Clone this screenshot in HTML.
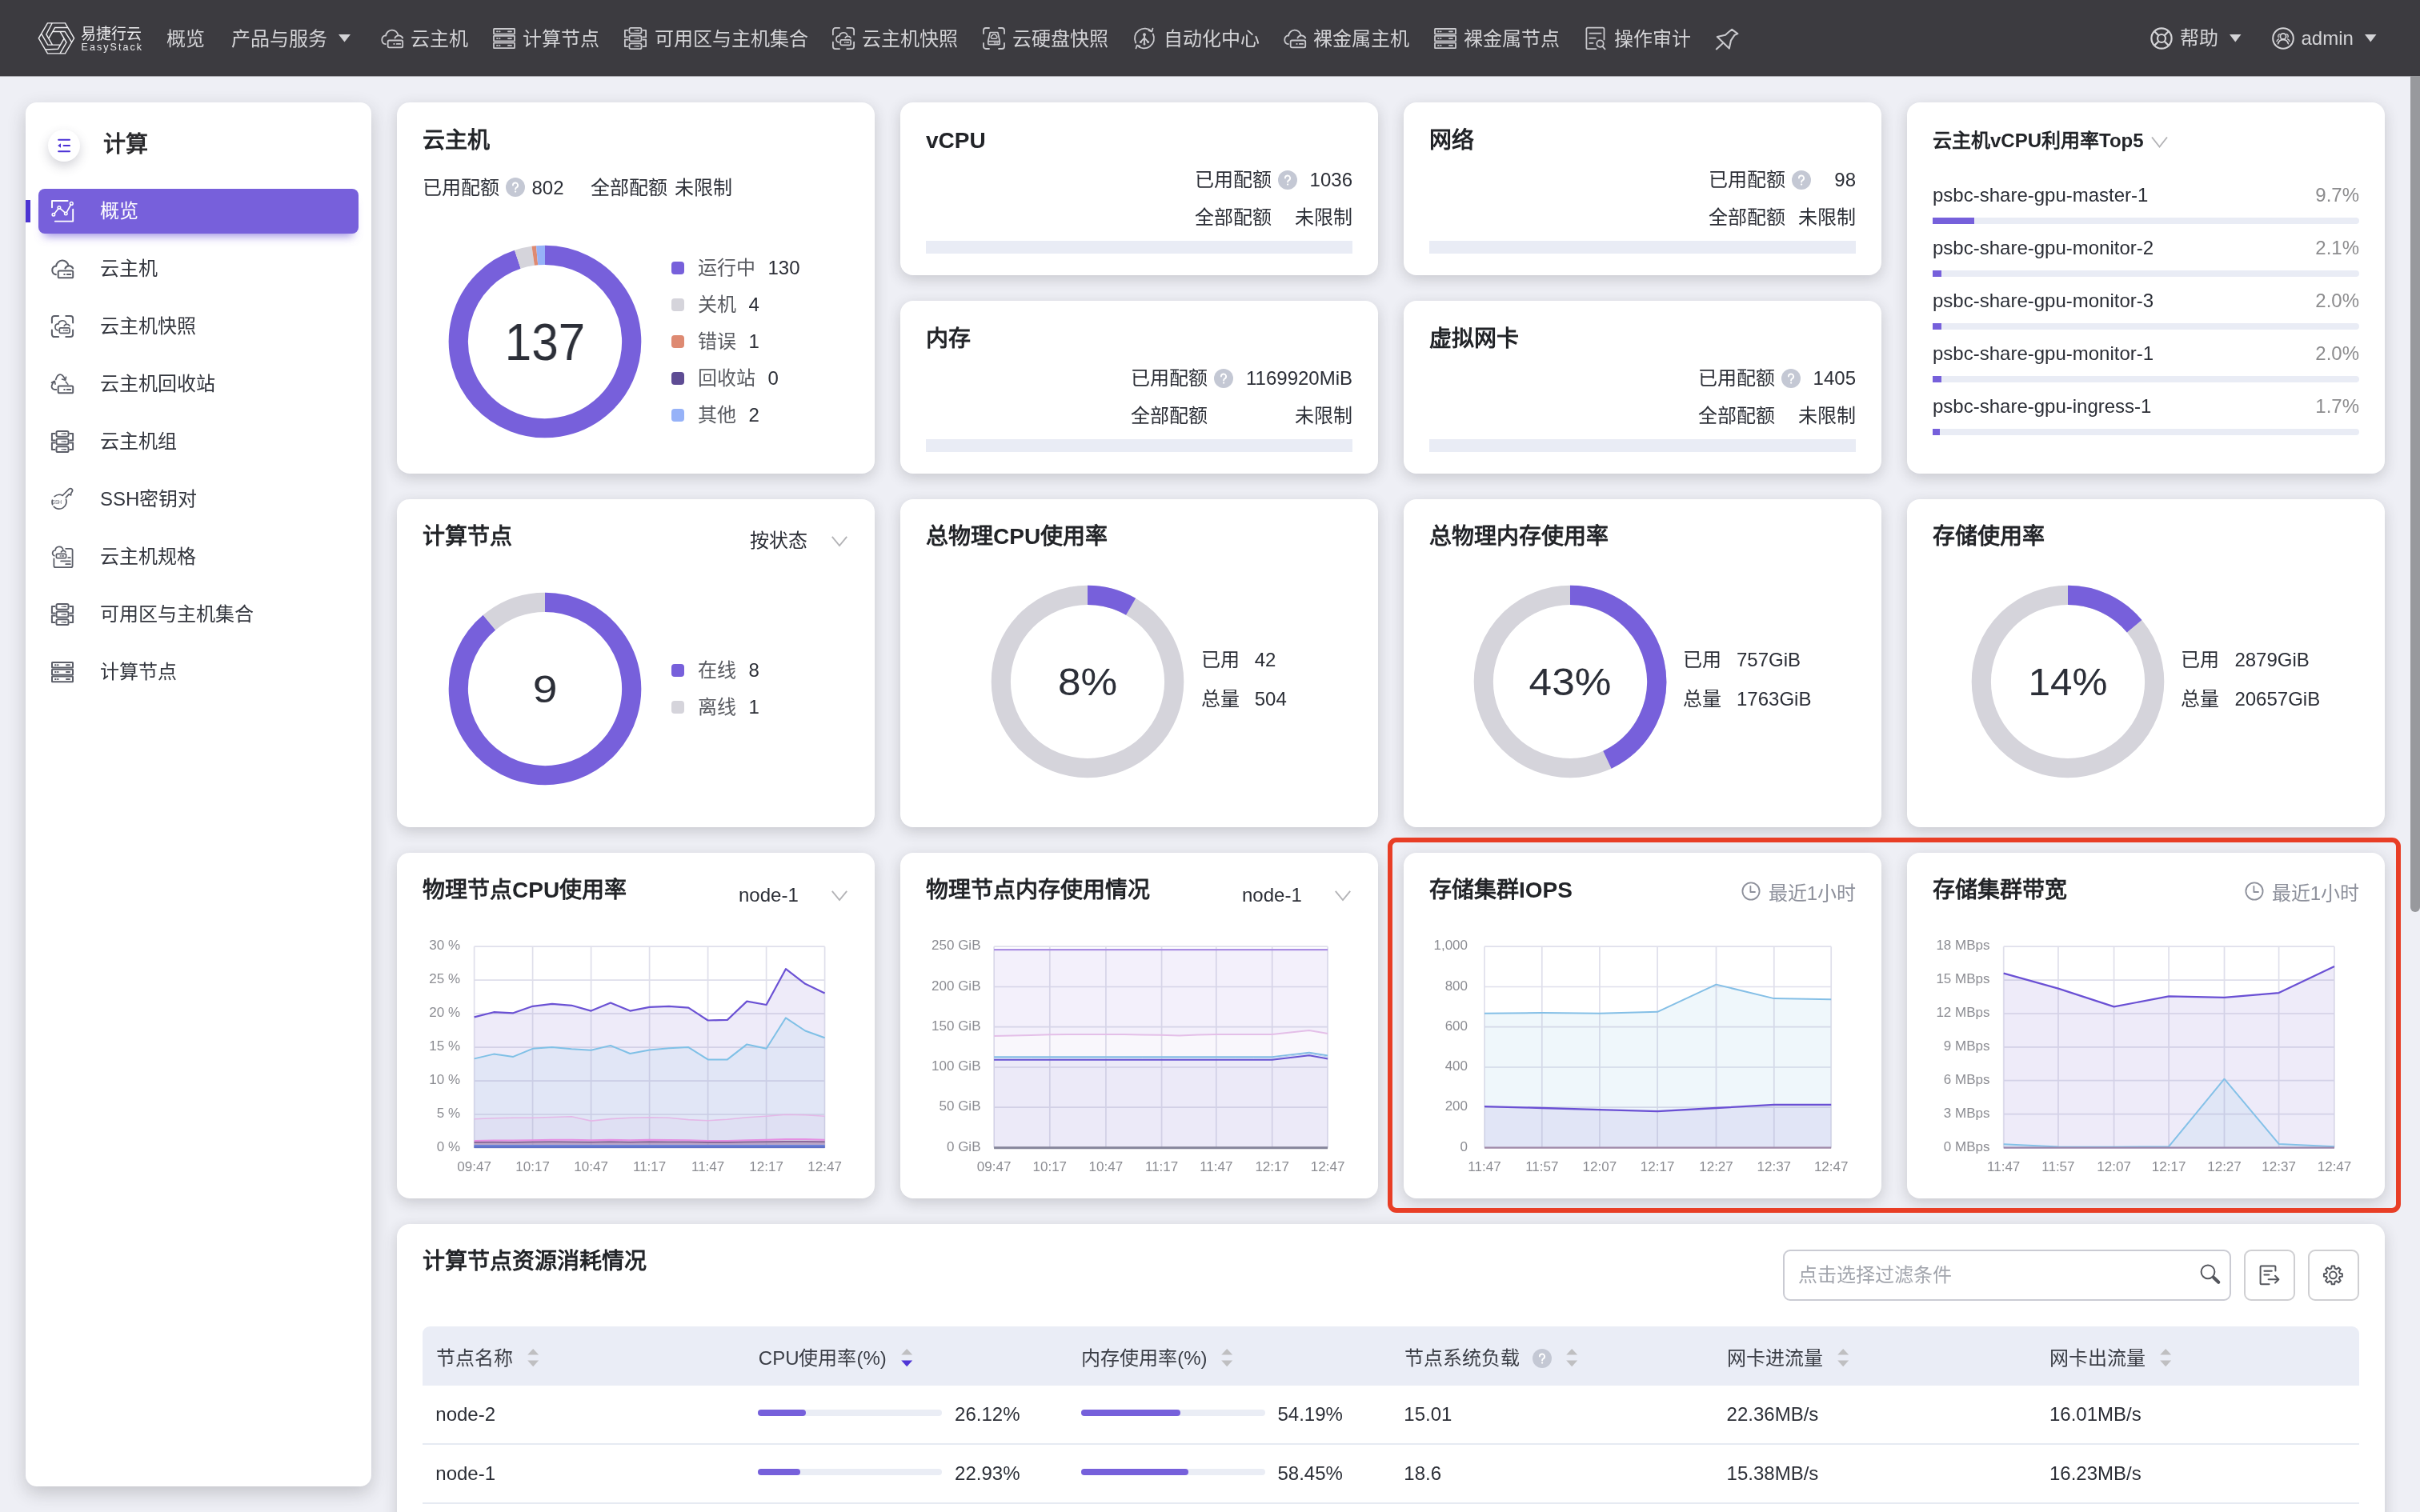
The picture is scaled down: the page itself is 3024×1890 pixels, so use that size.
<!DOCTYPE html><html lang="zh-CN"><head><meta charset="utf-8"><title>EasyStack</title><style>
*{box-sizing:border-box;margin:0;padding:0}
html,body{width:3024px;height:1890px;overflow:hidden}
body{position:relative;background:#eeeff5;font-family:"Liberation Sans",sans-serif;color:#2b2e36;font-size:24px;-webkit-font-smoothing:antialiased}
.abs{position:absolute}
.t{position:absolute;white-space:nowrap;line-height:1}
.nav{position:absolute;left:0;top:0;width:3024px;height:95px;background:#3c3b40}
.nav .t{color:#d6d6d8;font-size:24px}
.card{position:absolute;background:#fff;border-radius:16px;box-shadow:0 5px 18px rgba(44,44,50,.2)}
.ttl{position:absolute;white-space:nowrap;font-weight:bold;font-size:28px;line-height:1;color:#222428}
.q{position:absolute;width:24px;height:24px;border-radius:50%;background:#c3c7d3;color:#fff;font-size:17px;line-height:24px;text-align:center;font-weight:bold}
.bar{position:absolute;background:#e9ecf5}
.pf{position:absolute;background:#7660db}
svg{position:absolute;overflow:visible}
</style></head><body><div id="w" style="position:absolute;left:0;top:0;width:3024px;height:1890px;overflow:hidden;will-change:transform">
<div class="nav"></div><div class="abs" style="left:0;top:95px;width:3024px;height:1px;background:#a9a9ae"></div>
<svg style="left:0;top:0" width="120" height="95" viewBox="0 0 120 95" fill="none" stroke="#ededef" stroke-width="1.45" stroke-linejoin="miter" stroke-linecap="butt"><path d="M59.44 28.89L81.48 28.89L92.59 47.87L81.48 66.85L59.44 66.85L48.33 47.87ZM60.78 48.19L68.70 34.44L84.67 34.44M65.81 39.44L81.11 39.44L89.63 52.96M75.03 39.33L82.97 53.06L74.99 66.88M80.08 48.06L72.44 61.30L56.47 61.92M75.58 56.10L59.72 56.11L51.73 42.28M65.49 56.11L57.84 42.86L65.29 28.73"/></svg>
<div class="t" style="top:32.6px;font-size:19px;left:101.0px;color:#ececee;letter-spacing:0px">易捷行云</div>
<div class="t" style="top:52.8px;font-size:12.5px;left:101.5px;color:#ececee;letter-spacing:2.05px">EasyStack</div>
<div class="t" style="top:36.5px;font-size:24px;left:208.0px;color:#d3d3d6;">概览</div>
<div class="t" style="top:36.5px;font-size:24px;left:289.0px;color:#d3d3d6;">产品与服务</div>
<svg style="left:422.5px;top:43px" width="15" height="9.5" viewBox="0 0 15 9.5"><path d="M0 0H15L7.5 9.5Z" fill="#d3d3d6"/></svg>
<svg style="left:476px;top:34px" width="28" height="28" viewBox="0 0 28 28" fill="none" stroke="#c9c9cd" stroke-width="1.8" stroke-linecap="round" stroke-linejoin="round"><path d="M5.9 21.2A5.5 5.5 0 0 1 5.6 10.4M6.2 10.7A7.7 7.7 0 0 1 21.5 10.2M17.4 13.5A5.4 5.4 0 0 1 27.2 13.5"/><rect x="8.7" y="16.5" width="18.5" height="8.8" rx="1.6"/><path d="M16.2 20.9h.6M19.8 20.9h4.4"/></svg>
<div class="t" style="top:36.5px;font-size:24px;left:513.0px;color:#d3d3d6;">云主机</div>
<svg style="left:616px;top:34px" width="28" height="28" viewBox="0 0 28 28" fill="none" stroke="#c9c9cd" stroke-width="1.8" stroke-linecap="round" stroke-linejoin="round"><rect x="1" y="2" width="26" height="6.6" rx=".5"/><rect x="1" y="10.8" width="26" height="6.6" rx=".5"/><rect x="1" y="19.6" width="26" height="6.6" rx=".5"/><path d="M5 5.3h.6M8 5.3h.6M19 5.3h4M5 14.1h.6M8 14.1h.6M19 14.1h4M5 22.9h.6M8 22.9h.6M19 22.9h4"/></svg>
<div class="t" style="top:36.5px;font-size:24px;left:653.0px;color:#d3d3d6;">计算节点</div>
<svg style="left:780px;top:34px" width="28" height="28" viewBox="0 0 28 28" fill="none" stroke="#c9c9cd" stroke-width="1.8" stroke-linecap="round" stroke-linejoin="round"><rect x="6.5" y=".9" width="15" height="6.8" rx="1.7"/><rect x="6.5" y="10.6" width="15" height="6.8" rx="1.7"/><rect x="6.5" y="20.3" width="15" height="6.8" rx="1.7"/><path d="M13.4 4.3h.5M15.6 4.3h2.8M13.4 14h.5M15.6 14h2.8M13.4 23.7h.5M15.6 23.7h2.8" stroke-width="1.6"/><path d="M4.6 3.9H.9V12.4H4.6M4.6 15.6H.9V24.1H4.6M23.4 3.9H27.1V12.4H23.4M23.4 15.6H27.1V24.1H23.4"/></svg>
<div class="t" style="top:36.5px;font-size:24px;left:818.0px;color:#d3d3d6;">可用区与主机集合</div>
<svg style="left:1040px;top:34px" width="28" height="28" viewBox="0 0 28 28" fill="none" stroke="#c9c9cd" stroke-width="1.8" stroke-linecap="round" stroke-linejoin="round"><path d="M.9 9.4V4A3.1 3.1 0 0 1 4 .9H9.1M18.3 .9H24A3.1 3.1 0 0 1 27.1 4V9.4M27.1 18.6V24A3.1 3.1 0 0 1 24 27.1H18.3M9.1 27.1H4A3.1 3.1 0 0 1 .9 24V18.6"/><path d="M8.4 18.9A4.05 4.05 0 0 1 8.3 10.9M9 11A5 5 0 0 1 18.8 10.6M16.2 13.3A3.9 3.9 0 0 1 22.9 13.3" stroke-width="1.7"/><rect x="10.3" y="15.9" width="12.8" height="6.4" rx="1.3" stroke-width="1.7"/><path d="M15.6 19.1h.5M17.8 19.1h2.8" stroke-width="1.5"/></svg>
<div class="t" style="top:36.5px;font-size:24px;left:1077.0px;color:#d3d3d6;">云主机快照</div>
<svg style="left:1228px;top:34px" width="28" height="28" viewBox="0 0 28 28" fill="none" stroke="#c9c9cd" stroke-width="1.8" stroke-linecap="round" stroke-linejoin="round"><path d="M1 8V4a3 3 0 0 1 3-3h4M20 1h4a3 3 0 0 1 3 3v4M27 20v4a3 3 0 0 1-3 3h-4M8 27H4a3 3 0 0 1-3-3v-4"/><path d="M9.2 6.5h9.6l2.4 10.5v3.6a1 1 0 0 1-1 1H7.8a1 1 0 0 1-1-1V17z" stroke-width="1.7"/><path d="M6.8 17.6h14.4" stroke-width="1.7"/><path d="M11.6 14.2a1.9 1.9 0 0 1 .3-3.7a2.6 2.6 0 0 1 5 .3a1.8 1.8 0 0 1-.2 3.4z" stroke-width="1.5"/><path d="M14.5 19.8h.4M16.5 19.8h.4M18.5 19.8h.4" stroke-width="1.5"/></svg>
<div class="t" style="top:36.5px;font-size:24px;left:1265.0px;color:#d3d3d6;">云硬盘快照</div>
<svg style="left:1416px;top:34px" width="28" height="28" viewBox="0 0 28 28" fill="none" stroke="#c9c9cd" stroke-width="1.8" stroke-linecap="round" stroke-linejoin="round"><path d="M3.2 19.5A12.4 12.4 0 0 1 23 5.2M24.8 8.5A12.4 12.4 0 0 1 5 22.8"/><path d="M19.5 4.2l3.8 1.2l1.2-3.8M8.5 23.8l-3.8-1.2l-1.2 3.8" stroke-width="1.7"/><circle cx="14" cy="9.2" r="1.9" fill="#c9c9cd" stroke="none"/><path d="M14 10v10.5M14 13.5l-4.2 4.3M14 13.5l4.2 4.3" stroke-width="1.9"/><circle cx="9.4" cy="18.4" r="1.5" fill="#c9c9cd" stroke="none"/><circle cx="18.6" cy="18.4" r="1.5" fill="#c9c9cd" stroke="none"/><circle cx="14" cy="21" r="1.5" fill="#c9c9cd" stroke="none"/></svg>
<div class="t" style="top:36.5px;font-size:24px;left:1454.0px;color:#d3d3d6;">自动化中心</div>
<svg style="left:1604px;top:34px" width="28" height="28" viewBox="0 0 28 28" fill="none" stroke="#c9c9cd" stroke-width="1.8" stroke-linecap="round" stroke-linejoin="round"><path d="M5.9 21.2A5.5 5.5 0 0 1 5.6 10.4M6.2 10.7A7.7 7.7 0 0 1 21.5 10.2M17.4 13.5A5.4 5.4 0 0 1 27.2 13.5"/><rect x="8.7" y="16.5" width="18.5" height="8.8" rx="1.6"/><path d="M16.2 20.9h.6M19.8 20.9h4.4"/></svg>
<div class="t" style="top:36.5px;font-size:24px;left:1641.0px;color:#d3d3d6;">裸金属主机</div>
<svg style="left:1792px;top:34px" width="28" height="28" viewBox="0 0 28 28" fill="none" stroke="#c9c9cd" stroke-width="1.8" stroke-linecap="round" stroke-linejoin="round"><rect x="1" y="2" width="26" height="6.6" rx=".5"/><rect x="1" y="10.8" width="26" height="6.6" rx=".5"/><rect x="1" y="19.6" width="26" height="6.6" rx=".5"/><path d="M5 5.3h.6M8 5.3h.6M19 5.3h4M5 14.1h.6M8 14.1h.6M19 14.1h4M5 22.9h.6M8 22.9h.6M19 22.9h4"/></svg>
<div class="t" style="top:36.5px;font-size:24px;left:1829.0px;color:#d3d3d6;">裸金属节点</div>
<svg style="left:1980px;top:34px" width="28" height="28" viewBox="0 0 28 28" fill="none" stroke="#c9c9cd" stroke-width="1.8" stroke-linecap="round" stroke-linejoin="round"><path d="M24.5 15.4V2.2a1.5 1.5 0 0 0-1.5-1.5H3.9a1.5 1.5 0 0 0-1.5 1.5V25.7a1.5 1.5 0 0 0 1.5 1.5H14.5"/><path d="M6.3 7.6H20.6M6.3 13.7H13.7M6.3 19.8H10.6"/><circle cx="19.5" cy="20.6" r="4.2"/><path d="M22.6 24.1L25.6 27.4"/></svg>
<div class="t" style="top:36.5px;font-size:24px;left:2017.0px;color:#d3d3d6;">操作审计</div>
<svg style="left:2144px;top:34px" width="28" height="28" viewBox="0 0 28 28" fill="none" stroke="#c9c9cd" stroke-width="2.1" stroke-linecap="round" stroke-linejoin="round"><path d="M20.2 2.8L27.4 8.1L23.6 9.7L18.9 16.7L16.8 26.5L1.8 12.1L12 9.8L16.2 6Z"/><path d="M8.6 20.2L.8 27.4"/></svg>
<svg style="left:2687px;top:34px" width="28" height="28" viewBox="0 0 28 28" fill="none" stroke="#d3d3d6" stroke-width="2.2"><circle cx="14" cy="14" r="12.6"/><circle cx="14" cy="14" r="5"/><path d="M5.2 5.2l5.2 5.2M22.8 5.2l-5.2 5.2M5.2 22.8l5.2-5.2M22.8 22.8l-5.2-5.2"/></svg>
<div class="t" style="top:36.0px;font-size:24px;left:2723.5px;color:#d3d3d6;">帮助</div>
<svg style="left:2785.5px;top:42.5px" width="14.5" height="9.5" viewBox="0 0 14.5 9.5"><path d="M0 0H14.5L7.25 9.5Z" fill="#d3d3d6"/></svg>
<svg style="left:2839px;top:34px" width="28" height="28" viewBox="0 0 28 28" fill="none" stroke="#d3d3d6" stroke-width="2" stroke-linecap="round"><circle cx="14" cy="14" r="12.8"/><circle cx="14" cy="11.4" r="3.6" stroke-width="1.8"/><path d="M7.6 20.6a6.6 6.6 0 0 1 12.8 0" stroke-width="1.8"/><path d="M8.2 12.6a2.6 2.6 0 0 1 1.6-4M6 17.6a4.5 4.5 0 0 1 2.4-2.8M19.8 12.6a2.6 2.6 0 0 0-1.6-4M22 17.6a4.5 4.5 0 0 0-2.4-2.8" stroke-width="1.4"/></svg>
<div class="t" style="top:36.0px;font-size:24px;left:2875.5px;color:#d3d3d6;">admin</div>
<svg style="left:2955px;top:42.5px" width="14.5" height="9.5" viewBox="0 0 14.5 9.5"><path d="M0 0H14.5L7.25 9.5Z" fill="#d3d3d6"/></svg>
<div class="card" style="left:32px;top:128px;width:432px;height:1730px;border-radius:14px;box-shadow:0 8px 22px rgba(44,44,50,.22)"></div>
<div class="abs" style="left:60px;top:162px;width:40px;height:40px;border-radius:50%;background:#fff;box-shadow:0 6px 14px rgba(60,60,80,.22)"></div>
<svg style="left:70px;top:172px" width="20" height="20" viewBox="0 0 20 20" fill="none" stroke="#4b32d6" stroke-width="2.1" stroke-linecap="round"><path d="M3.2 2.8H17M9.6 10H17M3.2 17.2H17"/><path d="M2.2 10L6 7.2V12.8Z" fill="#4b32d6" stroke="none"/></svg>
<div class="ttl" style="left:128.5px;top:166.5px;color:#2b2b2e">计算</div>
<div class="abs" style="left:48px;top:236px;width:400px;height:56px;border-radius:8px;background:#7760db;box-shadow:0 10px 12px -7px rgba(112,90,215,.7)"></div>
<div class="abs" style="left:32px;top:250px;width:6px;height:28px;background:#4b34d2"></div>
<svg style="left:64px;top:250px" width="28" height="28" viewBox="0 0 28 28" fill="none" stroke="#fff" stroke-width="2" stroke-linecap="round" stroke-linejoin="round"><path d="M1 9.2V1H20.6M27.2 11.6V26.6H4.8" stroke-width="1.9"/><path d="M4 16.9L8.8 10.9M11.2 10.6L17 15.7M19.4 15.2L24.4 6" stroke-width="1.6"/><circle cx="2.9" cy="18.3" r="1.75" stroke-width="1.5"/><circle cx="9.9" cy="9.5" r="1.75" stroke-width="1.5"/><circle cx="18.3" cy="16.9" r="1.75" stroke-width="1.5"/><circle cx="25.3" cy="4.4" r="1.85" stroke-width="1.5"/></svg>
<div class="t" style="top:252.0px;font-size:24px;left:125.0px;color:#fff;">概览</div>
<svg style="left:64px;top:322px" width="28" height="28" viewBox="0 0 28 28" fill="none" stroke="#5b5e68" stroke-width="2" stroke-linecap="round" stroke-linejoin="round"><path d="M5.9 21.2A5.5 5.5 0 0 1 5.6 10.4M6.2 10.7A7.7 7.7 0 0 1 21.5 10.2M17.4 13.5A5.4 5.4 0 0 1 27.2 13.5"/><rect x="8.7" y="16.5" width="18.5" height="8.8" rx="1.6"/><path d="M16.2 20.9h.6M19.8 20.9h4.4"/></svg>
<div class="t" style="top:324.0px;font-size:24px;left:125.0px;color:#33363e;">云主机</div>
<svg style="left:64px;top:394px" width="28" height="28" viewBox="0 0 28 28" fill="none" stroke="#5b5e68" stroke-width="2" stroke-linecap="round" stroke-linejoin="round"><path d="M.9 9.4V4A3.1 3.1 0 0 1 4 .9H9.1M18.3 .9H24A3.1 3.1 0 0 1 27.1 4V9.4M27.1 18.6V24A3.1 3.1 0 0 1 24 27.1H18.3M9.1 27.1H4A3.1 3.1 0 0 1 .9 24V18.6"/><path d="M8.4 18.9A4.05 4.05 0 0 1 8.3 10.9M9 11A5 5 0 0 1 18.8 10.6M16.2 13.3A3.9 3.9 0 0 1 22.9 13.3" stroke-width="1.7"/><rect x="10.3" y="15.9" width="12.8" height="6.4" rx="1.3" stroke-width="1.7"/><path d="M15.6 19.1h.5M17.8 19.1h2.8" stroke-width="1.5"/></svg>
<div class="t" style="top:396.0px;font-size:24px;left:125.0px;color:#33363e;">云主机快照</div>
<svg style="left:64px;top:466px" width="28" height="28" viewBox="0 0 28 28" fill="none" stroke="#5b5e68" stroke-width="2" stroke-linecap="round" stroke-linejoin="round"><path d="M5.7 8.5C6.8 4.8 8.8 2.2 11 2.1C13.6 2 15.8 4.8 17.4 8.6" stroke-width="1.8"/><path d="M13.6 8l4 1.2l.9-3.9" stroke-width="1.7"/><path d="M18.3 11.2l2.5 3.2" stroke-width="1.7" stroke-dasharray="2.2 1.4"/><path d="M6.4 21C2.6 21.2.3 19.4.5 16.8C.7 14.6 2 12.6 3.6 11" stroke-width="1.8"/><path d="M.5 12.3l3.8-2l.7 3.8" stroke-width="1.7"/><rect x="8.7" y="16.5" width="18.5" height="8.8" rx="1.6"/><path d="M16.2 20.9h.6M19.8 20.9h4.4"/></svg>
<div class="t" style="top:468.0px;font-size:24px;left:125.0px;color:#33363e;">云主机回收站</div>
<svg style="left:64px;top:538px" width="28" height="28" viewBox="0 0 28 28" fill="none" stroke="#5b5e68" stroke-width="2" stroke-linecap="round" stroke-linejoin="round"><rect x="6.5" y=".9" width="15" height="6.8" rx="1.7"/><rect x="6.5" y="10.6" width="15" height="6.8" rx="1.7"/><rect x="6.5" y="20.3" width="15" height="6.8" rx="1.7"/><path d="M13.4 4.3h.5M15.6 4.3h2.8M13.4 14h.5M15.6 14h2.8M13.4 23.7h.5M15.6 23.7h2.8" stroke-width="1.6"/><path d="M4.6 3.9H.9V12.4H4.6M4.6 15.6H.9V24.1H4.6M23.4 3.9H27.1V12.4H23.4M23.4 15.6H27.1V24.1H23.4"/></svg>
<div class="t" style="top:540.0px;font-size:24px;left:125.0px;color:#33363e;">云主机组</div>
<svg style="left:64px;top:610px" width="28" height="28" viewBox="0 0 28 28" fill="none" stroke="#5b5e68" stroke-width="2" stroke-linecap="round" stroke-linejoin="round"><path d="M4.2 10.6A9.1 9.1 0 0 1 14.3 9.4M18.5 14.2A9.1 9.1 0 0 1 3.3 23.4M1.6 20.6A9.1 9.1 0 0 1 1.4 15.2" stroke-width="1.7"/><path d="M14.6 9L22.2 1.4a2.5 2.5 0 0 1 3.6 0a2.5 2.5 0 0 1 .2 3.3L25 6l-.5 3l-2.4-1.2L18.4 11.8" stroke-width="1.7"/><text x="1" y="19.9" font-family="Liberation Sans" font-size="6.6" fill="#5b5e68" stroke="none" textLength="12" lengthAdjust="spacingAndGlyphs">SSH</text></svg>
<div class="t" style="top:612.0px;font-size:24px;left:125.0px;color:#33363e;">SSH密钥对</div>
<svg style="left:64px;top:682px" width="28" height="28" viewBox="0 0 28 28" fill="none" stroke="#5b5e68" stroke-width="2" stroke-linecap="round" stroke-linejoin="round"><path d="M3.4 16.4V25.2a2 2 0 0 0 2 2H24.6a2 2 0 0 0 2-2V5.8a2 2 0 0 0-2-2H18.2" stroke-width="1.8"/><path d="M3.9 12.7A3.5 3.5 0 0 1 4.4 6M5.1 5.9A4.9 4.9 0 0 1 14.8 5.4M12.4 8A3.2 3.2 0 0 1 17.9 8" stroke-width="1.7"/><rect x="6.4" y="10.3" width="12.2" height="5.4" rx="1.3" stroke-width="1.7"/><path d="M11.2 13h.5M13.2 13h2.4" stroke-width="1.3"/><path d="M21.3 15.2h2.6M12.1 19.4h11.8M18.2 23.2h5.7" stroke-width="1.7"/></svg>
<div class="t" style="top:684.0px;font-size:24px;left:125.0px;color:#33363e;">云主机规格</div>
<svg style="left:64px;top:754px" width="28" height="28" viewBox="0 0 28 28" fill="none" stroke="#5b5e68" stroke-width="2" stroke-linecap="round" stroke-linejoin="round"><rect x="6.5" y=".9" width="15" height="6.8" rx="1.7"/><rect x="6.5" y="10.6" width="15" height="6.8" rx="1.7"/><rect x="6.5" y="20.3" width="15" height="6.8" rx="1.7"/><path d="M13.4 4.3h.5M15.6 4.3h2.8M13.4 14h.5M15.6 14h2.8M13.4 23.7h.5M15.6 23.7h2.8" stroke-width="1.6"/><path d="M4.6 3.9H.9V12.4H4.6M4.6 15.6H.9V24.1H4.6M23.4 3.9H27.1V12.4H23.4M23.4 15.6H27.1V24.1H23.4"/></svg>
<div class="t" style="top:756.0px;font-size:24px;left:125.0px;color:#33363e;">可用区与主机集合</div>
<svg style="left:64px;top:826px" width="28" height="28" viewBox="0 0 28 28" fill="none" stroke="#5b5e68" stroke-width="2" stroke-linecap="round" stroke-linejoin="round"><rect x="1" y="2" width="26" height="6.6" rx=".5"/><rect x="1" y="10.8" width="26" height="6.6" rx=".5"/><rect x="1" y="19.6" width="26" height="6.6" rx=".5"/><path d="M5 5.3h.6M8 5.3h.6M19 5.3h4M5 14.1h.6M8 14.1h.6M19 14.1h4M5 22.9h.6M8 22.9h.6M19 22.9h4"/></svg>
<div class="t" style="top:828.0px;font-size:24px;left:125.0px;color:#33363e;">计算节点</div>
<div class="card" style="left:496px;top:128px;width:597px;height:464px;"></div>
<div class="ttl" style="left:528px;top:161.5px;font-size:28px">云主机</div>
<div class="t" style="top:222.5px;font-size:24px;left:528.0px;">已用配额</div>
<svg style="left:632px;top:222px" width="24" height="24" viewBox="0 0 24 24"><circle cx="12" cy="12" r="12" fill="#c4c8d4"/><path d="M8.9 9.6a3.1 3.1 0 1 1 4.6 2.7c-1 .6-1.4 1.1-1.4 2.2" fill="none" stroke="#fff" stroke-width="1.9" stroke-linecap="round"/><circle cx="12.1" cy="17.6" r="1.15" fill="#fff"/></svg>
<div class="t" style="top:222.5px;font-size:24px;left:664.5px;">802</div>
<div class="t" style="top:222.5px;font-size:24px;left:737.5px;">全部配额</div>
<div class="t" style="top:222.5px;font-size:24px;left:842.5px;">未限制</div>
<svg style="left:556px;top:301.7px" width="250" height="250" viewBox="556 301.7 250 250" fill="none"><path d="M681.00 318.50A108.2 108.2 0 1 1 646.86 324.03" stroke="#7760db" stroke-width="24.2"/><path d="M646.86 324.03A108.2 108.2 0 0 1 666.16 319.52" stroke="#d5d4db" stroke-width="24.2"/><path d="M666.16 319.52A108.2 108.2 0 0 1 671.09 318.95" stroke="#de8a72" stroke-width="24.2"/><path d="M671.09 318.95A108.2 108.2 0 0 1 681.00 318.50" stroke="#96b2f8" stroke-width="24.2"/></svg>
<div class="t" style="top:395.5px;font-size:64px;left:0.0px;color:#2c2f38;left:581px;width:200px;text-align:center;transform:scaleX(.94)">137</div>
<div class="abs" style="left:839px;top:327px;width:16px;height:16px;border-radius:4px;background:#7760db"></div>
<div class="t" style="left:871.5px;top:323px;color:#5a5c62">运行中<span style="color:#2b2e36;margin-left:16px">130</span></div>
<div class="abs" style="left:839px;top:373px;width:16px;height:16px;border-radius:4px;background:#d5d4db"></div>
<div class="t" style="left:871.5px;top:369px;color:#5a5c62">关机<span style="color:#2b2e36;margin-left:16px">4</span></div>
<div class="abs" style="left:839px;top:419px;width:16px;height:16px;border-radius:4px;background:#de8a72"></div>
<div class="t" style="left:871.5px;top:415px;color:#5a5c62">错误<span style="color:#2b2e36;margin-left:16px">1</span></div>
<div class="abs" style="left:839px;top:465px;width:16px;height:16px;border-radius:4px;background:#5e4c94"></div>
<div class="t" style="left:871.5px;top:461px;color:#5a5c62">回收站<span style="color:#2b2e36;margin-left:16px">0</span></div>
<div class="abs" style="left:839px;top:511px;width:16px;height:16px;border-radius:4px;background:#96b2f8"></div>
<div class="t" style="left:871.5px;top:507px;color:#5a5c62">其他<span style="color:#2b2e36;margin-left:16px">2</span></div>
<div class="card" style="left:1125px;top:128px;width:597px;height:216px;"></div>
<div class="ttl" style="left:1157px;top:161.5px;font-size:28px">vCPU</div>
<div class="abs" style="right:1334px;top:201.5px;display:inline-flex;flex-direction:column;white-space:nowrap;line-height:1"><div style="display:flex;align-items:center;height:47px"><span>已用配额</span><span style="display:inline-block;width:24px;height:24px;margin-left:8px"></span><span style="margin-left:auto;padding-left:16px">1036</span></div><div style="display:flex;align-items:center;height:47px"><span>全部配额</span><span style="margin-left:auto;padding-left:16px">未限制</span></div></div>
<div class="bar" style="left:1157px;top:301px;width:533px;height:16px"></div>
<div class="card" style="left:1125px;top:376px;width:597px;height:216px;"></div>
<div class="ttl" style="left:1157px;top:409.5px;font-size:28px">内存</div>
<div class="abs" style="right:1334px;top:449.5px;display:inline-flex;flex-direction:column;white-space:nowrap;line-height:1"><div style="display:flex;align-items:center;height:47px"><span>已用配额</span><span style="display:inline-block;width:24px;height:24px;margin-left:8px"></span><span style="margin-left:auto;padding-left:16px">1169920MiB</span></div><div style="display:flex;align-items:center;height:47px"><span>全部配额</span><span style="margin-left:auto;padding-left:16px">未限制</span></div></div>
<div class="bar" style="left:1157px;top:549px;width:533px;height:16px"></div>
<div class="card" style="left:1754px;top:128px;width:597px;height:216px;"></div>
<div class="ttl" style="left:1786px;top:161.5px;font-size:28px">网络</div>
<div class="abs" style="right:705px;top:201.5px;display:inline-flex;flex-direction:column;white-space:nowrap;line-height:1"><div style="display:flex;align-items:center;height:47px"><span>已用配额</span><span style="display:inline-block;width:24px;height:24px;margin-left:8px"></span><span style="margin-left:auto;padding-left:16px">98</span></div><div style="display:flex;align-items:center;height:47px"><span>全部配额</span><span style="margin-left:auto;padding-left:16px">未限制</span></div></div>
<div class="bar" style="left:1786px;top:301px;width:533px;height:16px"></div>
<div class="card" style="left:1754px;top:376px;width:597px;height:216px;"></div>
<div class="ttl" style="left:1786px;top:409.5px;font-size:28px">虚拟网卡</div>
<div class="abs" style="right:705px;top:449.5px;display:inline-flex;flex-direction:column;white-space:nowrap;line-height:1"><div style="display:flex;align-items:center;height:47px"><span>已用配额</span><span style="display:inline-block;width:24px;height:24px;margin-left:8px"></span><span style="margin-left:auto;padding-left:16px">1405</span></div><div style="display:flex;align-items:center;height:47px"><span>全部配额</span><span style="margin-left:auto;padding-left:16px">未限制</span></div></div>
<div class="bar" style="left:1786px;top:549px;width:533px;height:16px"></div>
<svg style="left:1596.60625px;top:213px" width="24" height="24" viewBox="0 0 24 24"><circle cx="12" cy="12" r="12" fill="#c4c8d4"/><path d="M8.9 9.6a3.1 3.1 0 1 1 4.6 2.7c-1 .6-1.4 1.1-1.4 2.2" fill="none" stroke="#fff" stroke-width="1.9" stroke-linecap="round"/><circle cx="12.1" cy="17.6" r="1.15" fill="#fff"/></svg>
<svg style="left:1517.009375px;top:461px" width="24" height="24" viewBox="0 0 24 24"><circle cx="12" cy="12" r="12" fill="#c4c8d4"/><path d="M8.9 9.6a3.1 3.1 0 1 1 4.6 2.7c-1 .6-1.4 1.1-1.4 2.2" fill="none" stroke="#fff" stroke-width="1.9" stroke-linecap="round"/><circle cx="12.1" cy="17.6" r="1.15" fill="#fff"/></svg>
<svg style="left:2239px;top:213px" width="24" height="24" viewBox="0 0 24 24"><circle cx="12" cy="12" r="12" fill="#c4c8d4"/><path d="M8.9 9.6a3.1 3.1 0 1 1 4.6 2.7c-1 .6-1.4 1.1-1.4 2.2" fill="none" stroke="#fff" stroke-width="1.9" stroke-linecap="round"/><circle cx="12.1" cy="17.6" r="1.15" fill="#fff"/></svg>
<svg style="left:2225.60625px;top:461px" width="24" height="24" viewBox="0 0 24 24"><circle cx="12" cy="12" r="12" fill="#c4c8d4"/><path d="M8.9 9.6a3.1 3.1 0 1 1 4.6 2.7c-1 .6-1.4 1.1-1.4 2.2" fill="none" stroke="#fff" stroke-width="1.9" stroke-linecap="round"/><circle cx="12.1" cy="17.6" r="1.15" fill="#fff"/></svg>
<div class="card" style="left:2383px;top:128px;width:597px;height:464px;"></div>
<div class="ttl" style="left:2415px;top:164.0px;font-size:24px">云主机vCPU利用率Top5</div>
<svg style="left:2688px;top:170px" width="21" height="15" viewBox="0 0 21 15" fill="none" stroke="#b4b4b7" stroke-width="1.9"><path d="M1 1.5L10.5 13.5L20 1.5"/></svg>
<div class="t" style="top:232.0px;font-size:24px;left:2415.0px;color:#2b2e36;">psbc-share-gpu-master-1</div>
<div class="t" style="top:232.0px;font-size:24px;right:76.0px;color:#8c8c8e;">9.7%</div>
<div class="bar" style="left:2415px;top:272px;width:533px;height:8px;border-radius:0 4px 4px 0"></div>
<div class="pf" style="left:2415px;top:272px;width:51.7px;height:8px"></div>
<div class="t" style="top:298.0px;font-size:24px;left:2415.0px;color:#2b2e36;">psbc-share-gpu-monitor-2</div>
<div class="t" style="top:298.0px;font-size:24px;right:76.0px;color:#8c8c8e;">2.1%</div>
<div class="bar" style="left:2415px;top:338px;width:533px;height:8px;border-radius:0 4px 4px 0"></div>
<div class="pf" style="left:2415px;top:338px;width:11.2px;height:8px"></div>
<div class="t" style="top:364.0px;font-size:24px;left:2415.0px;color:#2b2e36;">psbc-share-gpu-monitor-3</div>
<div class="t" style="top:364.0px;font-size:24px;right:76.0px;color:#8c8c8e;">2.0%</div>
<div class="bar" style="left:2415px;top:404px;width:533px;height:8px;border-radius:0 4px 4px 0"></div>
<div class="pf" style="left:2415px;top:404px;width:10.7px;height:8px"></div>
<div class="t" style="top:430.0px;font-size:24px;left:2415.0px;color:#2b2e36;">psbc-share-gpu-monitor-1</div>
<div class="t" style="top:430.0px;font-size:24px;right:76.0px;color:#8c8c8e;">2.0%</div>
<div class="bar" style="left:2415px;top:470px;width:533px;height:8px;border-radius:0 4px 4px 0"></div>
<div class="pf" style="left:2415px;top:470px;width:10.7px;height:8px"></div>
<div class="t" style="top:496.0px;font-size:24px;left:2415.0px;color:#2b2e36;">psbc-share-gpu-ingress-1</div>
<div class="t" style="top:496.0px;font-size:24px;right:76.0px;color:#8c8c8e;">1.7%</div>
<div class="bar" style="left:2415px;top:536px;width:533px;height:8px;border-radius:0 4px 4px 0"></div>
<div class="pf" style="left:2415px;top:536px;width:9.1px;height:8px"></div>
<div class="card" style="left:496px;top:624px;width:597px;height:410px;"></div>
<div class="ttl" style="left:528px;top:657.0px;font-size:28px">计算节点</div>
<div class="t" style="top:664.0px;font-size:24px;left:937.0px;color:#2b2e36;">按状态</div>
<svg style="left:1038.5px;top:670px" width="20" height="13" viewBox="0 0 20 13" fill="none" stroke="#b4b4b7" stroke-width="1.9"><path d="M.8 .8L10.0 12L19.2 .8"/></svg>
<svg style="left:556px;top:735.6px" width="250" height="250" viewBox="556 735.6 250 250" fill="none"><path d="M681.00 752.40A108.2 108.2 0 1 1 611.45 777.71" stroke="#7760db" stroke-width="24.2"/><path d="M611.45 777.71A108.2 108.2 0 0 1 681.00 752.40" stroke="#d5d4db" stroke-width="24.2"/></svg>
<div class="t" style="top:837.5px;font-size:48px;left:0.0px;color:#2c2f38;left:581px;width:200px;text-align:center;transform:scaleX(1.15)">9</div>
<div class="abs" style="left:839px;top:830px;width:16px;height:16px;border-radius:4px;background:#7760db"></div>
<div class="t" style="left:871.5px;top:826px;color:#5a5c62">在线<span style="color:#2b2e36;margin-left:16px">8</span></div>
<div class="abs" style="left:839px;top:876px;width:16px;height:16px;border-radius:4px;background:#d5d4db"></div>
<div class="t" style="left:871.5px;top:872px;color:#5a5c62">离线<span style="color:#2b2e36;margin-left:16px">1</span></div>
<div class="card" style="left:1125px;top:624px;width:597px;height:410px;"></div>
<div class="ttl" style="left:1157px;top:657.0px;font-size:28px">总物理CPU使用率</div>
<svg style="left:1234.22734375px;top:726.7px" width="250" height="250" viewBox="1234.22734375 726.7 250 250" fill="none"><circle cx="1359.22734375" cy="851.7" r="108.2" stroke="#d5d4db" stroke-width="24.2"/><path d="M1359.23 743.50A108.2 108.2 0 0 1 1413.33 758.00" stroke="#7760db" stroke-width="24.2"/></svg>
<div class="t" style="top:828.5px;font-size:48px;left:0.0px;color:#2c2f38;left:1259.22734375px;width:200px;text-align:center;transform:scaleX(1.07)">8%</div>
<div class="t" style="top:812.5px;font-size:24px;left:1500.7px;">已用</div>
<div class="t" style="top:812.5px;font-size:24px;left:1567.7px;">42</div>
<div class="t" style="top:862.4px;font-size:24px;left:1500.7px;">总量</div>
<div class="t" style="top:862.4px;font-size:24px;left:1567.7px;">504</div>
<div class="card" style="left:1754px;top:624px;width:597px;height:410px;"></div>
<div class="ttl" style="left:1786px;top:657.0px;font-size:28px">总物理内存使用率</div>
<svg style="left:1836.5484375px;top:726.7px" width="250" height="250" viewBox="1836.5484375 726.7 250 250" fill="none"><circle cx="1961.5484375" cy="851.7" r="108.2" stroke="#d5d4db" stroke-width="24.2"/><path d="M1961.55 743.50A108.2 108.2 0 0 1 2008.00 949.42" stroke="#7760db" stroke-width="24.2"/></svg>
<div class="t" style="top:828.5px;font-size:48px;left:0.0px;color:#2c2f38;left:1861.5484375px;width:200px;text-align:center;transform:scaleX(1.07)">43%</div>
<div class="t" style="top:812.5px;font-size:24px;left:2103.0px;">已用</div>
<div class="t" style="top:812.5px;font-size:24px;left:2170.0px;">757GiB</div>
<div class="t" style="top:862.4px;font-size:24px;left:2103.0px;">总量</div>
<div class="t" style="top:862.4px;font-size:24px;left:2170.0px;">1763GiB</div>
<div class="card" style="left:2383px;top:624px;width:597px;height:410px;"></div>
<div class="ttl" style="left:2415px;top:657.0px;font-size:28px">存储使用率</div>
<svg style="left:2458.87421875px;top:726.7px" width="250" height="250" viewBox="2458.87421875 726.7 250 250" fill="none"><circle cx="2583.87421875" cy="851.7" r="108.2" stroke="#d5d4db" stroke-width="24.2"/><path d="M2583.87 743.50A108.2 108.2 0 0 1 2666.97 782.40" stroke="#7760db" stroke-width="24.2"/></svg>
<div class="t" style="top:828.5px;font-size:48px;left:0.0px;color:#2c2f38;left:2483.87421875px;width:200px;text-align:center;transform:scaleX(1.03)">14%</div>
<div class="t" style="top:812.5px;font-size:24px;left:2725.4px;">已用</div>
<div class="t" style="top:812.5px;font-size:24px;left:2792.4px;">2879GiB</div>
<div class="t" style="top:862.4px;font-size:24px;left:2725.4px;">总量</div>
<div class="t" style="top:862.4px;font-size:24px;left:2792.4px;">20657GiB</div>
<div class="card" style="left:496px;top:1066px;width:597px;height:432px;"></div>
<div class="ttl" style="left:528px;top:1099.0px;font-size:28px">物理节点CPU使用率</div>
<div class="t" style="top:1106.5px;font-size:24px;left:923.0px;">node-1</div>
<svg style="left:1038.5px;top:1113px" width="20" height="13" viewBox="0 0 20 13" fill="none" stroke="#b4b4b7" stroke-width="1.9"><path d="M.8 .8L10.0 12L19.2 .8"/></svg>
<svg style="left:0;top:0;filter:blur(.55px)" width="3024" height="1890" viewBox="0 0 3024 1890" fill="none"><rect x="592.6" y="1183.2" width="438.0" height="251.8" fill="#fff"/><polygon points="592.6,1435.0 592.6,1271.4 617.0,1265.2 641.3,1266.3 665.6,1257.8 689.9,1254.9 714.3,1256.8 738.6,1263.6 762.9,1253.5 787.3,1263.6 811.6,1258.8 835.9,1257.8 860.3,1259.7 884.6,1275.5 908.9,1274.9 933.3,1251.6 957.6,1256.0 981.9,1211.2 1006.2,1229.8 1030.6,1241.5 1030.6,1435.0" fill="#eeebf9"/><polygon points="592.6,1435.0 592.6,1323.4 617.0,1317.6 641.3,1320.9 665.6,1310.8 689.9,1309.1 714.3,1311.2 738.6,1312.7 762.9,1306.9 787.3,1317.0 811.6,1312.4 835.9,1310.2 860.3,1309.1 884.6,1324.4 908.9,1324.4 933.3,1305.4 957.6,1310.8 981.9,1272.3 1006.2,1288.5 1030.6,1297.2 1030.6,1435.0" fill="#e1e6f6"/><polygon points="592.6,1435.0 592.6,1398.8 617.0,1397.8 641.3,1397.2 665.6,1397.2 689.9,1396.5 714.3,1395.7 738.6,1401.1 762.9,1398.6 787.3,1397.2 811.6,1396.8 835.9,1397.2 860.3,1399.6 884.6,1400.7 908.9,1399.2 933.3,1396.8 957.6,1395.3 981.9,1393.3 1006.2,1393.7 1030.6,1395.3 1030.6,1435.0" fill="#dfe0f3"/><polygon points="592.6,1435.0 592.6,1426.0 617.0,1425.6 641.3,1425.6 665.6,1425.2 689.9,1424.8 714.3,1424.8 738.6,1425.2 762.9,1424.8 787.3,1425.2 811.6,1424.8 835.9,1425.0 860.3,1425.2 884.6,1426.0 908.9,1426.0 933.3,1425.2 957.6,1424.8 981.9,1424.0 1006.2,1424.0 1030.6,1424.8 1030.6,1435.0" fill="#d9c9e4"/><polygon points="592.6,1435.0 592.6,1427.9 617.0,1427.7 641.3,1427.9 665.6,1427.5 689.9,1427.3 714.3,1427.5 738.6,1427.7 762.9,1427.3 787.3,1427.7 811.6,1427.3 835.9,1427.5 860.3,1427.5 884.6,1428.1 908.9,1428.1 933.3,1427.5 957.6,1427.3 981.9,1426.9 1006.2,1427.1 1030.6,1427.3 1030.6,1435.0" fill="#b9a6c8"/><polygon points="592.6,1435.0 592.6,1432.2 617.0,1432.2 641.3,1432.2 665.6,1432.2 689.9,1432.2 714.3,1432.2 738.6,1432.2 762.9,1432.2 787.3,1432.2 811.6,1432.2 835.9,1432.2 860.3,1432.2 884.6,1432.2 908.9,1432.2 933.3,1432.2 957.6,1432.2 981.9,1432.2 1006.2,1432.2 1030.6,1432.2 1030.6,1435.0" fill="#8f8fd0"/><path d="M592.6 1183.2H1030.6M592.6 1225.2H1030.6M592.6 1267.1H1030.6M592.6 1309.1H1030.6M592.6 1351.1H1030.6M592.6 1393.0H1030.6M592.6 1435.0H1030.6M592.6 1183.2V1435.0M665.6 1183.2V1435.0M738.6 1183.2V1435.0M811.6 1183.2V1435.0M884.6 1183.2V1435.0M957.6 1183.2V1435.0M1030.6 1183.2V1435.0" stroke="rgba(150,150,188,.30)" stroke-width="1.7"/><polyline points="592.6,1271.4 617.0,1265.2 641.3,1266.3 665.6,1257.8 689.9,1254.9 714.3,1256.8 738.6,1263.6 762.9,1253.5 787.3,1263.6 811.6,1258.8 835.9,1257.8 860.3,1259.7 884.6,1275.5 908.9,1274.9 933.3,1251.6 957.6,1256.0 981.9,1211.2 1006.2,1229.8 1030.6,1241.5" stroke="#6b52d4" stroke-width="2.2" stroke-linejoin="round" opacity="1"/><polyline points="592.6,1323.4 617.0,1317.6 641.3,1320.9 665.6,1310.8 689.9,1309.1 714.3,1311.2 738.6,1312.7 762.9,1306.9 787.3,1317.0 811.6,1312.4 835.9,1310.2 860.3,1309.1 884.6,1324.4 908.9,1324.4 933.3,1305.4 957.6,1310.8 981.9,1272.3 1006.2,1288.5 1030.6,1297.2" stroke="#7fc0e6" stroke-width="2.0" stroke-linejoin="round" opacity="1"/><polyline points="592.6,1398.8 617.0,1397.8 641.3,1397.2 665.6,1397.2 689.9,1396.5 714.3,1395.7 738.6,1401.1 762.9,1398.6 787.3,1397.2 811.6,1396.8 835.9,1397.2 860.3,1399.6 884.6,1400.7 908.9,1399.2 933.3,1396.8 957.6,1395.3 981.9,1393.3 1006.2,1393.7 1030.6,1395.3" stroke="#e4b8e7" stroke-width="1.6" stroke-linejoin="round" opacity="1"/><polyline points="592.6,1426.0 617.0,1425.6 641.3,1425.6 665.6,1425.2 689.9,1424.8 714.3,1424.8 738.6,1425.2 762.9,1424.8 787.3,1425.2 811.6,1424.8 835.9,1425.0 860.3,1425.2 884.6,1426.0 908.9,1426.0 933.3,1425.2 957.6,1424.8 981.9,1424.0 1006.2,1424.0 1030.6,1424.8" stroke="#e58fe2" stroke-width="2" stroke-linejoin="round" opacity="1"/><polyline points="592.6,1427.9 617.0,1427.7 641.3,1427.9 665.6,1427.5 689.9,1427.3 714.3,1427.5 738.6,1427.7 762.9,1427.3 787.3,1427.7 811.6,1427.3 835.9,1427.5 860.3,1427.5 884.6,1428.1 908.9,1428.1 933.3,1427.5 957.6,1427.3 981.9,1426.9 1006.2,1427.1 1030.6,1427.3" stroke="#8c6a9c" stroke-width="2" stroke-linejoin="round" opacity="1"/><polyline points="592.6,1432.2 617.0,1432.2 641.3,1432.2 665.6,1432.2 689.9,1432.2 714.3,1432.2 738.6,1432.2 762.9,1432.2 787.3,1432.2 811.6,1432.2 835.9,1432.2 860.3,1432.2 884.6,1432.2 908.9,1432.2 933.3,1432.2 957.6,1432.2 981.9,1432.2 1006.2,1432.2 1030.6,1432.2" stroke="#6f86dd" stroke-width="2.4" stroke-linejoin="round" opacity="1"/><polyline points="592.6,1433.7 617.0,1433.7 641.3,1433.7 665.6,1433.7 689.9,1433.7 714.3,1433.7 738.6,1433.7 762.9,1433.7 787.3,1433.7 811.6,1433.7 835.9,1433.7 860.3,1433.7 884.6,1433.7 908.9,1433.7 933.3,1433.7 957.6,1433.7 981.9,1433.7 1006.2,1433.7 1030.6,1433.7" stroke="#5f72c8" stroke-width="2.4" stroke-linejoin="round" opacity="1"/></svg>
<div class="t" style="top:1173.2px;font-size:17px;right:2448.9px;color:#8b8c92;filter:blur(.35px)">30 %</div>
<div class="t" style="top:1215.2px;font-size:17px;right:2448.9px;color:#8b8c92;filter:blur(.35px)">25 %</div>
<div class="t" style="top:1257.1px;font-size:17px;right:2448.9px;color:#8b8c92;filter:blur(.35px)">20 %</div>
<div class="t" style="top:1299.1px;font-size:17px;right:2448.9px;color:#8b8c92;filter:blur(.35px)">15 %</div>
<div class="t" style="top:1341.1px;font-size:17px;right:2448.9px;color:#8b8c92;filter:blur(.35px)">10 %</div>
<div class="t" style="top:1383.0px;font-size:17px;right:2448.9px;color:#8b8c92;filter:blur(.35px)">5 %</div>
<div class="t" style="top:1425.0px;font-size:17px;right:2448.9px;color:#8b8c92;filter:blur(.35px)">0 %</div>
<div class="t" style="left:552.6px;width:80px;text-align:center;top:1450.0px;font-size:17px;color:#8b8c92;filter:blur(.35px)">09:47</div>
<div class="t" style="left:625.6px;width:80px;text-align:center;top:1450.0px;font-size:17px;color:#8b8c92;filter:blur(.35px)">10:17</div>
<div class="t" style="left:698.6px;width:80px;text-align:center;top:1450.0px;font-size:17px;color:#8b8c92;filter:blur(.35px)">10:47</div>
<div class="t" style="left:771.6px;width:80px;text-align:center;top:1450.0px;font-size:17px;color:#8b8c92;filter:blur(.35px)">11:17</div>
<div class="t" style="left:844.6px;width:80px;text-align:center;top:1450.0px;font-size:17px;color:#8b8c92;filter:blur(.35px)">11:47</div>
<div class="t" style="left:917.6px;width:80px;text-align:center;top:1450.0px;font-size:17px;color:#8b8c92;filter:blur(.35px)">12:17</div>
<div class="t" style="left:990.6px;width:80px;text-align:center;top:1450.0px;font-size:17px;color:#8b8c92;filter:blur(.35px)">12:47</div>
<div class="card" style="left:1125px;top:1066px;width:597px;height:432px;"></div>
<div class="ttl" style="left:1157px;top:1099.0px;font-size:28px">物理节点内存使用情况</div>
<div class="t" style="top:1106.5px;font-size:24px;left:1552.0px;">node-1</div>
<svg style="left:1667.5px;top:1113px" width="20" height="13" viewBox="0 0 20 13" fill="none" stroke="#b4b4b7" stroke-width="1.9"><path d="M.8 .8L10.0 12L19.2 .8"/></svg>
<svg style="left:0;top:0;filter:blur(.55px)" width="3024" height="1890" viewBox="0 0 3024 1890" fill="none"><rect x="1242.1" y="1183.2" width="417.0" height="251.3" fill="#fff"/><polygon points="1242.1,1434.5 1242.1,1187.1 1265.3,1187.1 1288.4,1187.1 1311.6,1187.1 1334.8,1187.1 1357.9,1187.1 1381.1,1187.1 1404.3,1187.1 1427.4,1187.1 1450.6,1187.1 1473.7,1187.1 1496.9,1187.1 1520.1,1187.1 1543.2,1187.1 1566.4,1187.1 1589.6,1187.1 1612.7,1187.1 1635.9,1187.1 1659.1,1187.1 1659.1,1434.5" fill="#f3f0fb"/><polygon points="1242.1,1434.5 1242.1,1294.9 1265.3,1294.5 1288.4,1293.9 1311.6,1293.3 1334.8,1293.1 1357.9,1292.9 1381.1,1292.9 1404.3,1292.9 1427.4,1293.5 1450.6,1293.7 1473.7,1294.5 1496.9,1293.5 1520.1,1292.9 1543.2,1292.9 1566.4,1292.9 1589.6,1292.9 1612.7,1290.4 1635.9,1287.9 1659.1,1292.0 1659.1,1434.5" fill="#f9f7fc"/><polygon points="1242.1,1434.5 1242.1,1321.1 1265.3,1321.1 1288.4,1321.1 1311.6,1321.1 1334.8,1321.1 1357.9,1321.1 1381.1,1321.1 1404.3,1321.1 1427.4,1321.1 1450.6,1321.1 1473.7,1321.1 1496.9,1321.1 1520.1,1321.1 1543.2,1321.1 1566.4,1321.1 1589.6,1321.1 1612.7,1318.4 1635.9,1315.7 1659.1,1319.5 1659.1,1434.5" fill="#eef1fa"/><polygon points="1242.1,1434.5 1242.1,1324.8 1265.3,1324.8 1288.4,1324.8 1311.6,1324.8 1334.8,1324.8 1357.9,1324.8 1381.1,1324.8 1404.3,1324.8 1427.4,1324.8 1450.6,1324.8 1473.7,1324.8 1496.9,1324.8 1520.1,1324.8 1543.2,1324.8 1566.4,1324.8 1589.6,1324.8 1612.7,1322.1 1635.9,1319.2 1659.1,1323.4 1659.1,1434.5" fill="#eceaf8"/><path d="M1242.1 1183.2H1659.1M1242.1 1233.5H1659.1M1242.1 1283.7H1659.1M1242.1 1334.0H1659.1M1242.1 1384.2H1659.1M1242.1 1434.5H1659.1M1242.1 1183.2V1434.5M1311.8 1183.2V1434.5M1381.9 1183.2V1434.5M1451.6 1183.2V1434.5M1519.8 1183.2V1434.5M1589.7 1183.2V1434.5M1659.1 1183.2V1434.5" stroke="rgba(150,150,188,.30)" stroke-width="1.7"/><polyline points="1242.1,1187.1 1265.3,1187.1 1288.4,1187.1 1311.6,1187.1 1334.8,1187.1 1357.9,1187.1 1381.1,1187.1 1404.3,1187.1 1427.4,1187.1 1450.6,1187.1 1473.7,1187.1 1496.9,1187.1 1520.1,1187.1 1543.2,1187.1 1566.4,1187.1 1589.6,1187.1 1612.7,1187.1 1635.9,1187.1 1659.1,1187.1" stroke="#ab8fe3" stroke-width="2.2" stroke-linejoin="round" opacity="1"/><polyline points="1242.1,1294.9 1265.3,1294.5 1288.4,1293.9 1311.6,1293.3 1334.8,1293.1 1357.9,1292.9 1381.1,1292.9 1404.3,1292.9 1427.4,1293.5 1450.6,1293.7 1473.7,1294.5 1496.9,1293.5 1520.1,1292.9 1543.2,1292.9 1566.4,1292.9 1589.6,1292.9 1612.7,1290.4 1635.9,1287.9 1659.1,1292.0" stroke="#e4bfe8" stroke-width="2" stroke-linejoin="round" opacity="1"/><polyline points="1242.1,1321.1 1265.3,1321.1 1288.4,1321.1 1311.6,1321.1 1334.8,1321.1 1357.9,1321.1 1381.1,1321.1 1404.3,1321.1 1427.4,1321.1 1450.6,1321.1 1473.7,1321.1 1496.9,1321.1 1520.1,1321.1 1543.2,1321.1 1566.4,1321.1 1589.6,1321.1 1612.7,1318.4 1635.9,1315.7 1659.1,1319.5" stroke="#82bde4" stroke-width="1.9" stroke-linejoin="round" opacity="1"/><polyline points="1242.1,1322.7 1265.3,1322.7 1288.4,1322.7 1311.6,1322.7 1334.8,1322.7 1357.9,1322.7 1381.1,1322.7 1404.3,1322.7 1427.4,1322.7 1450.6,1322.7 1473.7,1322.7 1496.9,1322.7 1520.1,1322.7 1543.2,1322.7 1566.4,1322.7 1589.6,1322.7 1612.7,1319.9 1635.9,1317.0 1659.1,1321.1" stroke="#b7cdf0" stroke-width="1.0" stroke-linejoin="round" opacity="1"/><polyline points="1242.1,1324.8 1265.3,1324.8 1288.4,1324.8 1311.6,1324.8 1334.8,1324.8 1357.9,1324.8 1381.1,1324.8 1404.3,1324.8 1427.4,1324.8 1450.6,1324.8 1473.7,1324.8 1496.9,1324.8 1520.1,1324.8 1543.2,1324.8 1566.4,1324.8 1589.6,1324.8 1612.7,1322.1 1635.9,1319.2 1659.1,1323.4" stroke="#6854d2" stroke-width="2.0" stroke-linejoin="round" opacity="1"/><path d="M1242.1 1434.8H1659.1" stroke="#85859a" stroke-width="3"/></svg>
<div class="t" style="top:1173.2px;font-size:17px;right:1798.5px;color:#8b8c92;filter:blur(.35px)">250 GiB</div>
<div class="t" style="top:1223.5px;font-size:17px;right:1798.5px;color:#8b8c92;filter:blur(.35px)">200 GiB</div>
<div class="t" style="top:1273.7px;font-size:17px;right:1798.5px;color:#8b8c92;filter:blur(.35px)">150 GiB</div>
<div class="t" style="top:1324.0px;font-size:17px;right:1798.5px;color:#8b8c92;filter:blur(.35px)">100 GiB</div>
<div class="t" style="top:1374.2px;font-size:17px;right:1798.5px;color:#8b8c92;filter:blur(.35px)">50 GiB</div>
<div class="t" style="top:1424.5px;font-size:17px;right:1798.5px;color:#8b8c92;filter:blur(.35px)">0 GiB</div>
<div class="t" style="left:1202.1px;width:80px;text-align:center;top:1450.0px;font-size:17px;color:#8b8c92;filter:blur(.35px)">09:47</div>
<div class="t" style="left:1271.8px;width:80px;text-align:center;top:1450.0px;font-size:17px;color:#8b8c92;filter:blur(.35px)">10:17</div>
<div class="t" style="left:1341.9px;width:80px;text-align:center;top:1450.0px;font-size:17px;color:#8b8c92;filter:blur(.35px)">10:47</div>
<div class="t" style="left:1411.6px;width:80px;text-align:center;top:1450.0px;font-size:17px;color:#8b8c92;filter:blur(.35px)">11:17</div>
<div class="t" style="left:1479.8px;width:80px;text-align:center;top:1450.0px;font-size:17px;color:#8b8c92;filter:blur(.35px)">11:47</div>
<div class="t" style="left:1549.7px;width:80px;text-align:center;top:1450.0px;font-size:17px;color:#8b8c92;filter:blur(.35px)">12:17</div>
<div class="t" style="left:1619.1px;width:80px;text-align:center;top:1450.0px;font-size:17px;color:#8b8c92;filter:blur(.35px)">12:47</div>
<div class="card" style="left:1754px;top:1066px;width:597px;height:432px;"></div>
<div class="ttl" style="left:1786px;top:1099.0px;font-size:28px">存储集群IOPS</div>
<svg style="left:2176px;top:1102.2px" width="24" height="24" viewBox="0 0 24 24" fill="none" stroke="#8d909b" stroke-width="1.8" stroke-linecap="round" stroke-linejoin="round"><circle cx="12" cy="12" r="10.6"/><path d="M11.4 5.8V13H17"/></svg>
<div class="t" style="top:1104.5px;font-size:24px;right:705.0px;color:#8d909b;">最近1小时</div>
<svg style="left:0;top:0;filter:blur(.55px)" width="3024" height="1890" viewBox="0 0 3024 1890" fill="none"><rect x="1855.0" y="1183.2" width="433.2" height="251.3" fill="#fff"/><polygon points="1855.0,1434.5 1855.0,1266.7 1926.8,1266.1 1998.9,1266.7 2071.1,1264.8 2144.5,1230.6 2216.8,1248.1 2288.2,1249.2 2288.2,1434.5" fill="#eff7fb"/><polygon points="1855.0,1434.5 1855.0,1383.1 1926.8,1385.0 1998.9,1387.1 2071.1,1389.1 2144.5,1385.0 2216.8,1380.9 2288.2,1380.9 2288.2,1434.5" fill="#e1e5f6"/><path d="M1855.0 1183.2H2288.2M1855.0 1233.5H2288.2M1855.0 1283.7H2288.2M1855.0 1334.0H2288.2M1855.0 1384.2H2288.2M1855.0 1434.5H2288.2M1855.0 1183.2V1434.5M1926.8 1183.2V1434.5M1998.9 1183.2V1434.5M2071.1 1183.2V1434.5M2144.5 1183.2V1434.5M2216.8 1183.2V1434.5M2288.2 1183.2V1434.5" stroke="rgba(150,150,188,.30)" stroke-width="1.7"/><polyline points="1855.0,1266.7 1926.8,1266.1 1998.9,1266.7 2071.1,1264.8 2144.5,1230.6 2216.8,1248.1 2288.2,1249.2" stroke="#84bfe6" stroke-width="2.0" stroke-linejoin="round" opacity="1"/><polyline points="1855.0,1383.1 1926.8,1385.0 1998.9,1387.1 2071.1,1389.1 2144.5,1385.0 2216.8,1380.9 2288.2,1380.9" stroke="#6a50d4" stroke-width="2.3" stroke-linejoin="round" opacity="1"/><path d="M1855 1434.6H2288.2" stroke="#a08aa8" stroke-width="2.4"/></svg>
<div class="t" style="top:1173.2px;font-size:17px;right:1190.0px;color:#8b8c92;filter:blur(.35px)">1,000</div>
<div class="t" style="top:1223.5px;font-size:17px;right:1190.0px;color:#8b8c92;filter:blur(.35px)">800</div>
<div class="t" style="top:1273.7px;font-size:17px;right:1190.0px;color:#8b8c92;filter:blur(.35px)">600</div>
<div class="t" style="top:1324.0px;font-size:17px;right:1190.0px;color:#8b8c92;filter:blur(.35px)">400</div>
<div class="t" style="top:1374.2px;font-size:17px;right:1190.0px;color:#8b8c92;filter:blur(.35px)">200</div>
<div class="t" style="top:1424.5px;font-size:17px;right:1190.0px;color:#8b8c92;filter:blur(.35px)">0</div>
<div class="t" style="left:1815.0px;width:80px;text-align:center;top:1450.0px;font-size:17px;color:#8b8c92;filter:blur(.35px)">11:47</div>
<div class="t" style="left:1886.8px;width:80px;text-align:center;top:1450.0px;font-size:17px;color:#8b8c92;filter:blur(.35px)">11:57</div>
<div class="t" style="left:1958.9px;width:80px;text-align:center;top:1450.0px;font-size:17px;color:#8b8c92;filter:blur(.35px)">12:07</div>
<div class="t" style="left:2031.1px;width:80px;text-align:center;top:1450.0px;font-size:17px;color:#8b8c92;filter:blur(.35px)">12:17</div>
<div class="t" style="left:2104.5px;width:80px;text-align:center;top:1450.0px;font-size:17px;color:#8b8c92;filter:blur(.35px)">12:27</div>
<div class="t" style="left:2176.8px;width:80px;text-align:center;top:1450.0px;font-size:17px;color:#8b8c92;filter:blur(.35px)">12:37</div>
<div class="t" style="left:2248.2px;width:80px;text-align:center;top:1450.0px;font-size:17px;color:#8b8c92;filter:blur(.35px)">12:47</div>
<div class="card" style="left:2383px;top:1066px;width:597px;height:432px;"></div>
<div class="ttl" style="left:2415px;top:1099.0px;font-size:28px">存储集群带宽</div>
<svg style="left:2805px;top:1102.2px" width="24" height="24" viewBox="0 0 24 24" fill="none" stroke="#8d909b" stroke-width="1.8" stroke-linecap="round" stroke-linejoin="round"><circle cx="12" cy="12" r="10.6"/><path d="M11.4 5.8V13H17"/></svg>
<div class="t" style="top:1104.5px;font-size:24px;right:76.0px;color:#8d909b;">最近1小时</div>
<svg style="left:0;top:0;filter:blur(.55px)" width="3024" height="1890" viewBox="0 0 3024 1890" fill="none"><rect x="2503.7" y="1183.2" width="413.3" height="251.3" fill="#fff"/><polygon points="2503.7,1434.5 2503.7,1216.6 2571.9,1235.6 2641.6,1258.4 2710.1,1245.4 2779.5,1246.9 2847.6,1241.1 2917.0,1207.9 2917.0,1434.5" fill="#eeebf9"/><polygon points="2503.7,1434.5 2503.7,1430.2 2571.9,1433.5 2641.6,1433.7 2710.1,1433.2 2779.5,1348.7 2847.6,1429.9 2917.0,1433.2 2917.0,1434.5" fill="#e0e6f6"/><path d="M2503.7 1183.2H2917.0M2503.7 1225.1H2917.0M2503.7 1267.0H2917.0M2503.7 1308.8H2917.0M2503.7 1350.7H2917.0M2503.7 1392.6H2917.0M2503.7 1434.5H2917.0M2503.7 1183.2V1434.5M2571.9 1183.2V1434.5M2641.6 1183.2V1434.5M2710.1 1183.2V1434.5M2779.5 1183.2V1434.5M2847.6 1183.2V1434.5M2917.0 1183.2V1434.5" stroke="rgba(150,150,188,.30)" stroke-width="1.7"/><polyline points="2503.7,1216.6 2571.9,1235.6 2641.6,1258.4 2710.1,1245.4 2779.5,1246.9 2847.6,1241.1 2917.0,1207.9" stroke="#6a50d4" stroke-width="2.2" stroke-linejoin="round" opacity="1"/><polyline points="2503.7,1430.2 2571.9,1433.5 2641.6,1433.7 2710.1,1433.2 2779.5,1348.7 2847.6,1429.9 2917.0,1433.2" stroke="#84c1e8" stroke-width="2.0" stroke-linejoin="round" opacity="1"/><path d="M2503.7 1434.6H2917" stroke="#9a86ac" stroke-width="2.4"/></svg>
<div class="t" style="top:1173.2px;font-size:17px;right:537.5px;color:#8b8c92;filter:blur(.35px)">18 MBps</div>
<div class="t" style="top:1215.1px;font-size:17px;right:537.5px;color:#8b8c92;filter:blur(.35px)">15 MBps</div>
<div class="t" style="top:1257.0px;font-size:17px;right:537.5px;color:#8b8c92;filter:blur(.35px)">12 MBps</div>
<div class="t" style="top:1298.8px;font-size:17px;right:537.5px;color:#8b8c92;filter:blur(.35px)">9 MBps</div>
<div class="t" style="top:1340.7px;font-size:17px;right:537.5px;color:#8b8c92;filter:blur(.35px)">6 MBps</div>
<div class="t" style="top:1382.6px;font-size:17px;right:537.5px;color:#8b8c92;filter:blur(.35px)">3 MBps</div>
<div class="t" style="top:1424.5px;font-size:17px;right:537.5px;color:#8b8c92;filter:blur(.35px)">0 MBps</div>
<div class="t" style="left:2463.7px;width:80px;text-align:center;top:1450.0px;font-size:17px;color:#8b8c92;filter:blur(.35px)">11:47</div>
<div class="t" style="left:2531.9px;width:80px;text-align:center;top:1450.0px;font-size:17px;color:#8b8c92;filter:blur(.35px)">11:57</div>
<div class="t" style="left:2601.6px;width:80px;text-align:center;top:1450.0px;font-size:17px;color:#8b8c92;filter:blur(.35px)">12:07</div>
<div class="t" style="left:2670.1px;width:80px;text-align:center;top:1450.0px;font-size:17px;color:#8b8c92;filter:blur(.35px)">12:17</div>
<div class="t" style="left:2739.5px;width:80px;text-align:center;top:1450.0px;font-size:17px;color:#8b8c92;filter:blur(.35px)">12:27</div>
<div class="t" style="left:2807.6px;width:80px;text-align:center;top:1450.0px;font-size:17px;color:#8b8c92;filter:blur(.35px)">12:37</div>
<div class="t" style="left:2877.0px;width:80px;text-align:center;top:1450.0px;font-size:17px;color:#8b8c92;filter:blur(.35px)">12:47</div>
<div class="abs" style="left:1734px;top:1046.6px;width:1266px;height:469.4px;border:6px solid #e83e26;border-radius:11px"></div>
<div class="card" style="left:496px;top:1530px;width:2484px;height:420px;"></div>
<div class="ttl" style="left:528px;top:1563.0px;font-size:28px">计算节点资源消耗情况</div>
<div class="abs" style="left:2228px;top:1562px;width:559.6px;height:63.6px;border:2px solid #cacbd3;border-radius:9px;background:#fff"></div>
<div class="t" style="top:1582.0px;font-size:24px;left:2246.5px;color:#a2a5ad;">点击选择过滤条件</div>
<svg style="left:2746px;top:1577px" width="32" height="32" viewBox="0 0 32 32" fill="none" stroke="#54565d" stroke-linecap="round"><circle cx="13" cy="12.8" r="8.4" stroke-width="2"/><path d="M20.2 20l6 5.8" stroke-width="4.2"/></svg>
<div class="abs" style="left:2804.3px;top:1562px;width:63.4px;height:63.6px;border:2px solid #cfcfd2;border-radius:9px;background:#fff"></div>
<div class="abs" style="left:2884.3px;top:1562px;width:63.4px;height:63.6px;border:2px solid #cfcfd2;border-radius:9px;background:#fff"></div>
<svg style="left:2820px;top:1578px" width="32" height="32" viewBox="0 0 32 32" fill="none" stroke="#54565d" stroke-width="2" stroke-linecap="round" stroke-linejoin="round"><path d="M23.4 10.4V5.6a1 1 0 0 0-1-1H5.6a1 1 0 0 0-1 1v20.6a1 1 0 0 0 1 1h10"/><path d="M9.4 10.8h9.4M9.4 15.4h6"/><path d="M14.6 21.2h12.6M23 16.8l4.4 4.4L23 25.6"/></svg>
<svg style="left:0;top:0" width="3024" height="1890" viewBox="0 0 3024 1890" fill="none" stroke="#54565d" stroke-width="2" stroke-linejoin="round"><path d="M2913.19 1585.59L2913.67 1582.43L2917.13 1582.43L2917.61 1585.59L2919.71 1586.46L2922.28 1584.56L2924.74 1587.02L2922.84 1589.59L2923.71 1591.69L2926.87 1592.17L2926.87 1595.63L2923.71 1596.11L2922.84 1598.21L2924.74 1600.78L2922.28 1603.24L2919.71 1601.34L2917.61 1602.21L2917.13 1605.37L2913.67 1605.37L2913.19 1602.21L2911.09 1601.34L2908.52 1603.24L2906.06 1600.78L2907.96 1598.21L2907.09 1596.11L2903.93 1595.63L2903.93 1592.17L2907.09 1591.69L2907.96 1589.59L2906.06 1587.02L2908.52 1584.56L2911.09 1586.46Z"/><circle cx="2915.4" cy="1593.9" r="4.3"/></svg>
<div class="abs" style="left:528px;top:1658px;width:2420px;height:73.6px;background:#eaedf6;border-radius:9px 9px 0 0"></div>
<div class="t" style="top:1685.8px;font-size:24px;left:544.5px;color:#3a3d45;">节点名称</div>
<svg style="left:658.5px;top:1686px" width="14.4" height="22.4" viewBox="0 0 14.4 22.4"><path d="M7.2 0L14.2 7.6H.2Z" fill="#bfbfc1"/><path d="M.2 14.6H14.2L7.2 22.2Z" fill="#bfbfc1"/></svg>
<div class="t" style="top:1685.8px;font-size:24px;left:947.8px;color:#3a3d45;">CPU使用率(%)</div>
<svg style="left:1125.8317708333334px;top:1686px" width="14.4" height="22.4" viewBox="0 0 14.4 22.4"><path d="M7.2 0L14.2 7.6H.2Z" fill="#bfbfc1"/><path d="M.2 14.6H14.2L7.2 22.2Z" fill="#4f36d6"/></svg>
<div class="t" style="top:1685.8px;font-size:24px;left:1351.2px;color:#3a3d45;">内存使用率(%)</div>
<svg style="left:1526.4916666666666px;top:1686px" width="14.4" height="22.4" viewBox="0 0 14.4 22.4"><path d="M7.2 0L14.2 7.6H.2Z" fill="#bfbfc1"/><path d="M.2 14.6H14.2L7.2 22.2Z" fill="#bfbfc1"/></svg>
<div class="t" style="top:1685.8px;font-size:24px;left:1754.5px;color:#3a3d45;">节点系统负载</div>
<svg style="left:1914.5px;top:1685.5px" width="24" height="24" viewBox="0 0 24 24"><circle cx="12" cy="12" r="12" fill="#c4c8d4"/><path d="M8.9 9.6a3.1 3.1 0 1 1 4.6 2.7c-1 .6-1.4 1.1-1.4 2.2" fill="none" stroke="#fff" stroke-width="1.9" stroke-linecap="round"/><circle cx="12.1" cy="17.6" r="1.15" fill="#fff"/></svg>
<svg style="left:1956.5px;top:1686px" width="14.4" height="22.4" viewBox="0 0 14.4 22.4"><path d="M7.2 0L14.2 7.6H.2Z" fill="#bfbfc1"/><path d="M.2 14.6H14.2L7.2 22.2Z" fill="#bfbfc1"/></svg>
<div class="t" style="top:1685.8px;font-size:24px;left:2157.8px;color:#3a3d45;">网卡进流量</div>
<svg style="left:2295.833333333333px;top:1686px" width="14.4" height="22.4" viewBox="0 0 14.4 22.4"><path d="M7.2 0L14.2 7.6H.2Z" fill="#bfbfc1"/><path d="M.2 14.6H14.2L7.2 22.2Z" fill="#bfbfc1"/></svg>
<div class="t" style="top:1685.8px;font-size:24px;left:2561.2px;color:#3a3d45;">网卡出流量</div>
<svg style="left:2699.1666666666665px;top:1686px" width="14.4" height="22.4" viewBox="0 0 14.4 22.4"><path d="M7.2 0L14.2 7.6H.2Z" fill="#bfbfc1"/><path d="M.2 14.6H14.2L7.2 22.2Z" fill="#bfbfc1"/></svg>
<div class="t" style="top:1755.7px;font-size:24px;left:544.3px;">node-2</div>
<div class="bar" style="left:947.1px;top:1762.0px;width:230px;height:8px;border-radius:4px;background:#eaedf5"></div>
<div class="pf" style="left:947.1px;top:1762.0px;width:60.1px;height:8px;border-radius:4px"></div>
<div class="t" style="top:1755.7px;font-size:24px;left:1193.1px;">26.12%</div>
<div class="bar" style="left:1350.5px;top:1762.0px;width:230px;height:8px;border-radius:4px;background:#eaedf5"></div>
<div class="pf" style="left:1350.5px;top:1762.0px;width:124.6px;height:8px;border-radius:4px"></div>
<div class="t" style="top:1755.7px;font-size:24px;left:1596.5px;">54.19%</div>
<div class="t" style="top:1755.7px;font-size:24px;left:1754.3px;">15.01</div>
<div class="t" style="top:1755.7px;font-size:24px;left:2157.6px;">22.36MB/s</div>
<div class="t" style="top:1755.7px;font-size:24px;left:2561.0px;">16.01MB/s</div>
<div class="abs" style="left:528px;top:1803.6px;width:2420px;height:2px;background:#e6eaf2"></div>
<div class="t" style="top:1829.7px;font-size:24px;left:544.3px;">node-1</div>
<div class="bar" style="left:947.1px;top:1836.0px;width:230px;height:8px;border-radius:4px;background:#eaedf5"></div>
<div class="pf" style="left:947.1px;top:1836.0px;width:52.7px;height:8px;border-radius:4px"></div>
<div class="t" style="top:1829.7px;font-size:24px;left:1193.1px;">22.93%</div>
<div class="bar" style="left:1350.5px;top:1836.0px;width:230px;height:8px;border-radius:4px;background:#eaedf5"></div>
<div class="pf" style="left:1350.5px;top:1836.0px;width:134.4px;height:8px;border-radius:4px"></div>
<div class="t" style="top:1829.7px;font-size:24px;left:1596.5px;">58.45%</div>
<div class="t" style="top:1829.7px;font-size:24px;left:1754.3px;">18.6</div>
<div class="t" style="top:1829.7px;font-size:24px;left:2157.6px;">15.38MB/s</div>
<div class="t" style="top:1829.7px;font-size:24px;left:2561.0px;">16.23MB/s</div>
<div class="abs" style="left:528px;top:1877.6px;width:2420px;height:2px;background:#e6eaf2"></div>
<div class="abs" style="left:3012px;top:95px;width:12px;height:1045px;background:#98999d;border-radius:0 0 6px 6px"></div>
</div><script>(function(){var d=window.devicePixelRatio||1,w=window.innerWidth||3024;if(d>1.2&&w<3000){var z=w/3024,h=Math.round(1890*z)+"px";document.getElementById("w").style.zoom=z;var s=document.documentElement.style,b=document.body.style;s.width=b.width=w+"px";s.height=b.height=h;}})();</script></body></html>
